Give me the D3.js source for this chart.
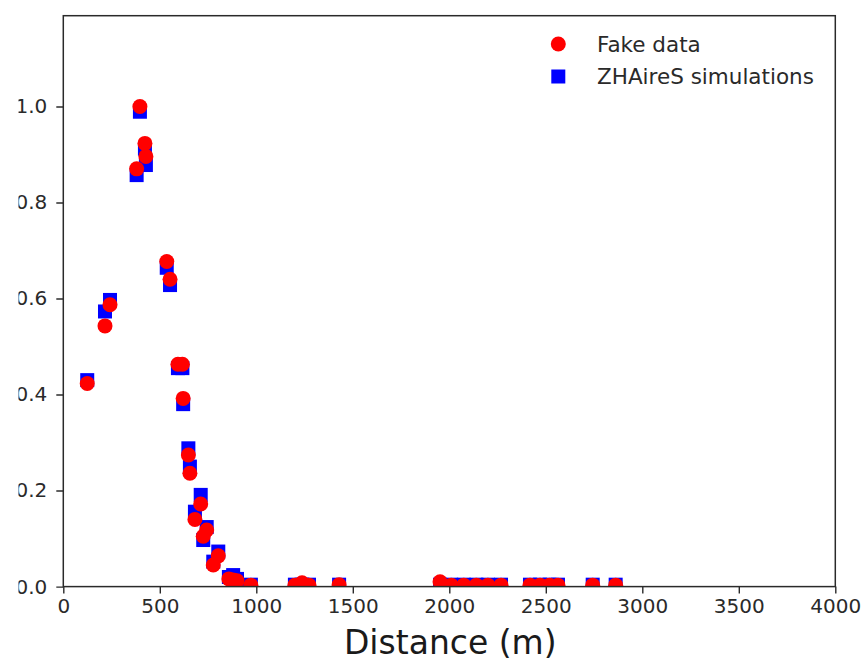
<!DOCTYPE html>
<html>
<head>
<meta charset="utf-8">
<script src="https://cdn.jsdelivr.net/npm/d3@7"></script>
<style>
  html, body { margin: 0; padding: 0; background: #fff; }
  svg { display: block; font-family: "DejaVu Sans", sans-serif; }
</style>
</head>
<body>
<svg id="chart" width="864" height="664"></svg>
<script>
// Data
const distance = [124, 216, 242, 380, 397, 423, 428, 536, 553, 594, 617, 621, 648, 656, 682, 712, 725, 743, 777, 803,
  858, 880, 900, 972, 1200, 1237, 1273, 1429, 1952, 2010, 2075, 2140, 2200, 2268, 2418, 2470, 2520, 2563, 2743, 2862];
const fakeData = [0.423, 0.543, 0.587, 0.870, 1.000, 0.923, 0.896, 0.677, 0.640, 0.463, 0.463, 0.392, 0.274, 0.236, 0.140, 0.172, 0.105, 0.118, 0.045, 0.064,
  0.016, 0.014, 0.012, 0.003, 0.003, 0.008, 0.003, 0.004, 0.010, 0.003, 0.003, 0.003, 0.003, 0.003, 0.003, 0.003, 0.003, 0.003, 0.003, 0.003];
const simData = [0.430, 0.573, 0.597, 0.857, 0.989, 0.912, 0.878, 0.664, 0.628, 0.455, 0.455, 0.380, 0.288, 0.250, 0.156, 0.191, 0.097, 0.124, 0.052, 0.073,
  0.020, 0.024, 0.016, 0.004, 0.004, 0.004, 0.004, 0.004, 0.004, 0.004, 0.004, 0.004, 0.004, 0.004, 0.004, 0.004, 0.004, 0.004, 0.004, 0.004];
const xTicks = [0, 500, 1000, 1500, 2000, 2500, 3000, 3500, 4000];
const yTicks = [0.0, 0.2, 0.4, 0.6, 0.8, 1.0];
const seriesNames = ["Fake data", "ZHAireS simulations"];
const xLabel = "Distance (m)";

const svg = d3.select("#chart");
const pLeft = 63.3, pRight = 835.3, pTop = 15.7, pBottom = 586.6;

const x = d3.scaleLinear().domain([0, 4000]).range([pLeft, pRight]);
const y = d3.scaleLinear().domain([0, 1.189]).range([pBottom, pTop]);

const defs = svg.append("defs");
defs.append("clipPath").attr("id", "plotclip")
  .append("rect").attr("x", pLeft).attr("y", pTop).attr("width", pRight - pLeft).attr("height", pBottom - pTop);
// the reference image is cropped on its left edge, cutting into the y tick labels
defs.append("clipPath").attr("id", "leftcrop")
  .append("rect").attr("x", 18.5).attr("y", 0).attr("width", 864).attr("height", 664);

const plot = svg.append("g").attr("clip-path", "url(#plotclip)");
const sq = 14, r = 7.5;

plot.selectAll("rect.sim").data(distance).enter().append("rect")
  .attr("class", "sim")
  .attr("x", d => x(d) - sq / 2)
  .attr("y", (d, i) => y(simData[i]) - sq / 2)
  .attr("width", sq).attr("height", sq)
  .attr("fill", "#0000ff");

plot.selectAll("circle.fake").data(distance).enter().append("circle")
  .attr("class", "fake")
  .attr("cx", d => x(d))
  .attr("cy", (d, i) => y(fakeData[i]))
  .attr("r", r)
  .attr("fill", "#ff0000");

// Axes
const tickColor = "#2a2a2a";
const xAxis = d3.axisBottom(x).tickValues(xTicks).tickFormat(d3.format("d")).tickSize(7).tickPadding(5);
const yAxis = d3.axisLeft(y).tickValues(yTicks).tickFormat(d3.format(".1f")).tickSize(7).tickPadding(9);

const gx = svg.append("g").attr("transform", `translate(0,${pBottom})`).call(xAxis);
const gyWrap = svg.append("g").attr("clip-path", "url(#leftcrop)");
const gy = gyWrap.append("g").attr("transform", `translate(${pLeft},0)`).call(yAxis);
[gx, gy].forEach(g => {
  g.select(".domain").remove();
  g.selectAll(".tick line").attr("stroke", tickColor).attr("stroke-width", 1.4);
  g.selectAll(".tick text").attr("fill", tickColor).style("font-size", "20px").style("font-family", "DejaVu Sans, sans-serif");
});

// Frame
svg.append("rect").attr("x", pLeft).attr("y", pTop).attr("width", pRight - pLeft).attr("height", pBottom - pTop)
  .attr("fill", "none").attr("stroke", tickColor).attr("stroke-width", 1.5);

// X label
svg.append("text").attr("x", (pLeft + pRight) / 2 + 1).attr("y", 654)
  .attr("text-anchor", "middle").attr("fill", "#1a1a1a")
  .style("font-size", "33px").text(xLabel);

// Legend
const leg = svg.append("g");
leg.append("circle").attr("cx", 558.3).attr("cy", 44).attr("r", r).attr("fill", "#ff0000");
leg.append("rect").attr("x", 558.3 - sq / 2).attr("y", 76.5 - sq / 2).attr("width", sq).attr("height", sq).attr("fill", "#0000ff");
leg.append("text").attr("x", 597).attr("y", 44).attr("dy", "0.36em").attr("fill", tickColor)
  .style("font-size", "21.5px").text(seriesNames[0]);
leg.append("text").attr("x", 597).attr("y", 76.5).attr("dy", "0.36em").attr("fill", tickColor)
  .style("font-size", "21.5px").text(seriesNames[1]);
</script>
</body>
</html>
